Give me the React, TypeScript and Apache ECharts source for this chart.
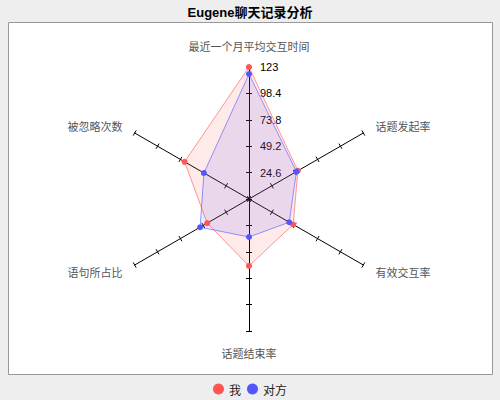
import React, { useEffect, useRef } from "react";
import * as echarts from "echarts";

const titleText = "Eugene聊天记录分析";
const indicatorNames = [
  "最近一个月平均交互时间",
  "被忽略次数",
  "语句所占比",
  "话题结束率",
  "有效交互率",
  "话题发起率",
];
const axisMax = 123;
const seriesNames = ["我", "对方"];
const meValues = [123, 69.3, 45, 62.4, 47.5, 52.6];
const otherValues = [116.5, 48.5, 52.6, 35.4, 43.3, 51];
const colors = ["#FF5555", "#5555FF"];

export default function App() {
  const ref = useRef<HTMLDivElement>(null);
  useEffect(() => {
    document.body.style.margin = "0";
    const chart = echarts.init(ref.current!, null, { renderer: "svg" });
    const baseRadar = {
      center: [249, 199],
      radius: 132,
      startAngle: 90,
      splitNumber: 5,
      shape: "polygon",
      splitLine: { show: false },
      splitArea: { show: false },
    };
    chart.setOption({
      animation: false,
      backgroundColor: "#EEEEEE",
      title: {
        text: titleText,
        left: "center",
        top: 1,
        textStyle: { fontFamily: "Liberation Sans, Arial, Noto Sans CJK SC", fontSize: 13, fontWeight: "bold", color: "#000" },
      },
      graphic: [
        {
          type: "rect",
          left: 8,
          top: 22,
          z: -10,
          shape: { width: 484, height: 352 },
          style: { fill: "#FFFFFF", stroke: "#999999", lineWidth: 1 },
        },
      ],
      legend: {
        data: seriesNames,
        bottom: 0,
        left: "center",
        icon: "circle",
        itemWidth: 11,
        itemHeight: 11,
        itemGap: 6,
        textStyle: { fontSize: 12, color: "#222", fontFamily: "Noto Sans CJK SC" },
      },
      radar: [
        {
          ...baseRadar,
          nameGap: 14,
          axisName: { color: "#555", fontSize: 11, fontFamily: "Noto Sans CJK SC", padding: [2, 0] },
          indicator: indicatorNames.map((name, i) => ({
            name,
            max: axisMax,
            min: 0,
            ...(i === 0 ? {} : { axisLabel: { show: false } }),
          })),
          axisLine: { show: true, lineStyle: { color: "#000", width: 1 } },
          axisTick: { show: true, length: 3, lineStyle: { color: "#000" } },
          axisLabel: {
            show: true,
            showMinLabel: false,
            color: "#000",
            fontSize: 11,
            fontFamily: "Liberation Sans, Arial",
            margin: -11,
            align: "left",
            formatter: (v: number) => String(Math.round(v * 10) / 10),
          },
        },
        {
          ...baseRadar,
          axisName: { show: false },
          indicator: indicatorNames.map(() => ({ name: "", max: axisMax, min: 0 })),
          axisLine: { show: false },
          axisTick: { show: true, length: -3, lineStyle: { color: "#000" } },
          axisLabel: { show: false },
        },
      ],
      series: [
        {
          type: "radar",
          radarIndex: 0,
          symbol: "circle",
          symbolSize: 6,
          z: 3,
          data: [
            {
              name: seriesNames[0],
              value: meValues,
              itemStyle: { color: colors[0] },
              lineStyle: { color: colors[0], width: 1, opacity: 0.6 },
              areaStyle: { color: colors[0], opacity: 0.12 },
            },
            {
              name: seriesNames[1],
              value: otherValues,
              itemStyle: { color: colors[1] },
              lineStyle: { color: colors[1], width: 1, opacity: 0.6 },
              areaStyle: { color: colors[1], opacity: 0.12 },
            },
          ],
        },
      ],
    });
    return () => chart.dispose();
  }, []);
  return <div ref={ref} style={{ width: 500, height: 400 }} />;
}
